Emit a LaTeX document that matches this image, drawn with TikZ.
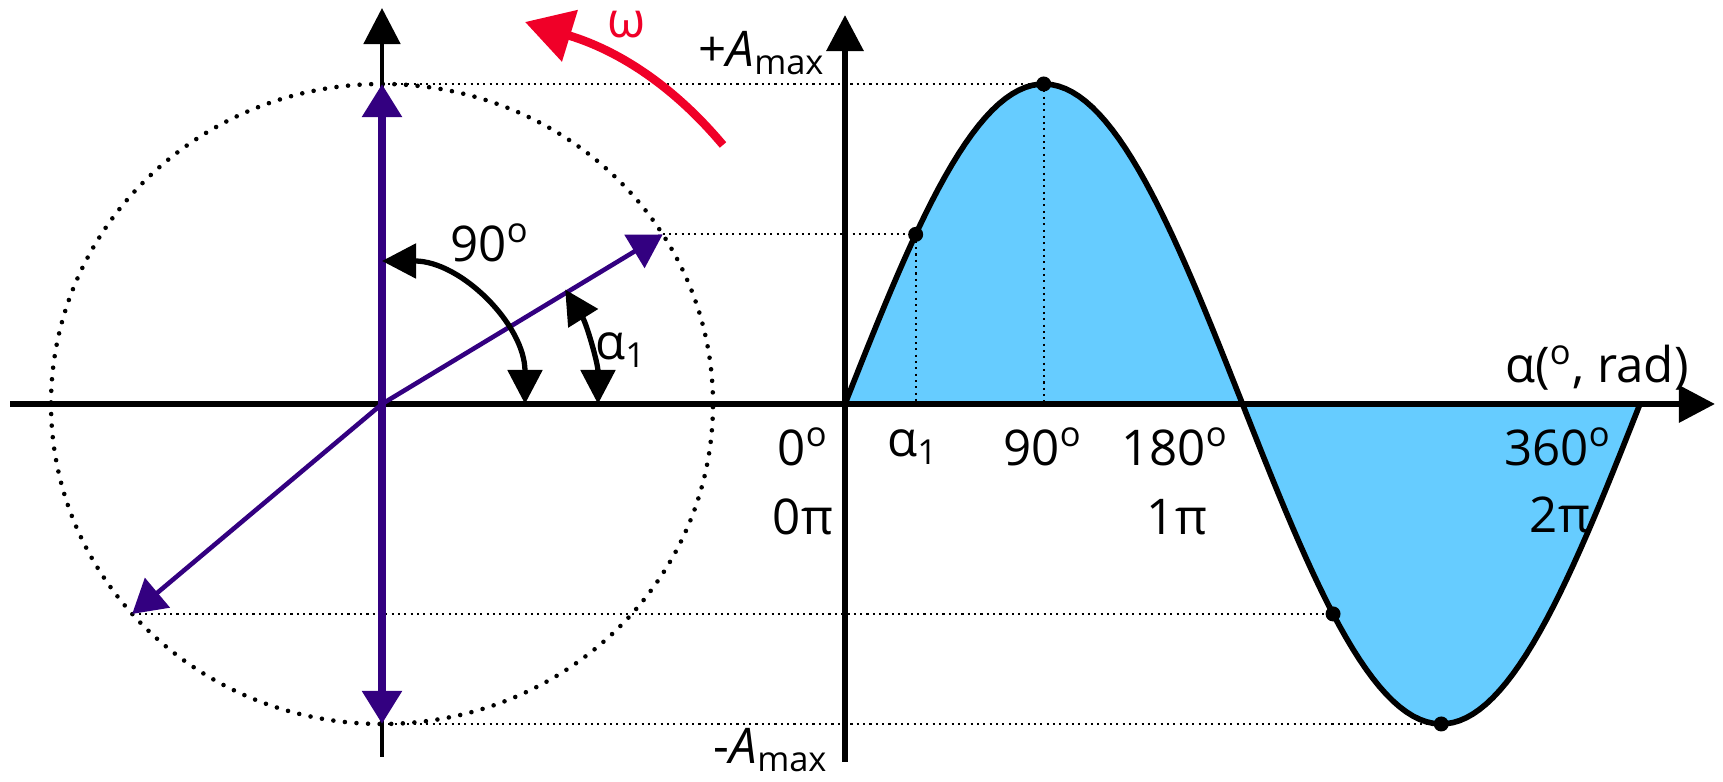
\documentclass[tikz,border=0pt]{standalone}
\usepackage{fontspec}
\setmainfont{Open Sans}
\usetikzlibrary{arrows.meta}

\definecolor{zeiger}{RGB}{51,0,128}
\definecolor{flaeche}{RGB}{102,204,255}
\definecolor{drehung}{RGB}{240,0,40}

\tikzset{
  gross/.tip={Triangle[length=0.36cm,width=0.36cm]},
  zspitze/.tip={Triangle[length=0.33cm,width=0.38cm]},
  wspitze/.tip={Triangle[length=0.34cm,width=0.34cm]},
  achse/.style={line width=1.8pt,-gross},
  kreis/.style={line width=1.3pt,dash pattern=on 0pt off 3.3pt,line cap=round},
  hilfslinie/.style={line width=0.6pt,dash pattern=on 0.6pt off 1.2pt},
  winkel/.style={line width=1.5pt,wspitze-wspitze},
  zeigerpfeil/.style={draw=zeiger,line width=1.3pt,-zspitze},
  punkt/.style={circle,fill=black,inner sep=0pt,minimum size=0.15cm},
  beschriftung/.style={font=\fontsize{14}{16}\selectfont,inner sep=0pt}
}

\begin{document}
\begin{tikzpicture}[x=0.01cm,y=0.01cm]
% Maße (px)
\def\Rx{331}   % Kreis, Radius x
\def\Ry{320}   % Kreis, Radius y = Amplitude
\def\Sx{845}   % Ursprung Sinus
\def\k{2.2083} % px pro Grad (795/360)
\useasboundingbox (0,0) rectangle (1723,782);

\coordinate (O) at (382,378);
\coordinate (S) at (\Sx,378);
\coordinate (zo) at (382,{378+\Ry});
\coordinate (zu) at (382,{378-\Ry});
\coordinate (z1) at ({382+\Rx*cos(32)},{378+\Ry*sin(32)});
\coordinate (z2) at ({382+\Rx*cos(221)},{378+\Ry*sin(221)});

% Fläche unter der Sinuskurve
\fill[flaeche] plot[domain=0:360,samples=120] ({\Sx+\x*\k},{378+\Ry*sin(\x)}) -- cycle;

% Punkte auf der Kurve (Lage)
\coordinate (q1) at ({\Sx+32*\k},{378+\Ry*sin(32)});
\coordinate (q2) at ({\Sx+90*\k},{378+\Ry});
\coordinate (q3) at ({\Sx+221*\k},{378+\Ry*sin(221)});
\coordinate (q4) at ({\Sx+270*\k},{378-\Ry});

% Hilfslinien
\draw[hilfslinie] (zo) -- (q2);
\draw[hilfslinie] (z1) -- (q1);
\draw[hilfslinie] (z2) -- (q3);
\draw[hilfslinie] (zu) -- (q4);
\draw[hilfslinie] (q1) -- (q1 |- S);
\draw[hilfslinie] (q2) -- (q2 |- S);

% Kreis
\draw[kreis] (O) ellipse[x radius=\Rx,y radius=\Ry];

% Sinuskurve
\draw[line width=1.6pt] plot[domain=0:360,samples=120] ({\Sx+\x*\k},{378+\Ry*sin(\x)});

% Achsen
\coordinate (xa) at (10,378);
\coordinate (xe) at (1715,378);
\draw[achse] (xa) -- (xe);
\draw[achse,line width=1.4pt] (382,25) -- (382,774);
\draw[achse] (\Sx,20) -- (\Sx,767);

% Zeiger
\draw[zeigerpfeil,line width=2.4pt,zspitze-zspitze] (zu) -- (zo);
\draw[zeigerpfeil] (O) -- (z1);
\draw[zeigerpfeil] (O) -- (z2);

% Punkte
\node[punkt] (p1) at (q1) {};
\node[punkt] (p2) at (q2) {};
\node[punkt] (p3) at (q3) {};
\node[punkt] (p4) at (q4) {};

% Winkel
\draw[winkel] ([shift={(90:143)}]O) arc[start angle=90,end angle=0,radius=143];
\draw[winkel] ([shift={(0:216)}]O) arc[start angle=0,end angle=32,radius=216];
\node[beschriftung] (w90) at (490,539) {90\textsuperscript{o}};
\node[beschriftung] (wa1) at (621,432) {α\textsubscript{1}};

% Drehsinn
\coordinate (d1) at (723,637);
\coordinate (d2) at (525,760);
\draw[drehung,line width=2.4pt,-{Triangle[length=0.47cm,width=0.52cm]}] (d1) .. controls (655,718) and (590,740) .. (d2);
\node[beschriftung,text=drehung] (omega) at (627,757) {ω};

% Beschriftung Achsen
\node[beschriftung,anchor=east] (amax) at (826,729) {+\textit{A}\textsubscript{max}};
\node[beschriftung,anchor=east] (amin) at (829,32) {-\textit{A}\textsubscript{max}};
\node[beschriftung] (t0) at (803,335) {0\textsuperscript{o}};
\node[beschriftung] (r0) at (803,265) {0π};
\node[beschriftung] (ta) at (913,335) {α\textsubscript{1}};
\node[beschriftung] (t90) at (1043,335) {90\textsuperscript{o}};
\node[beschriftung] (t180) at (1175,335) {180\textsuperscript{o}};
\node[beschriftung] (r1) at (1177,265) {1π};
\node[beschriftung] (t360) at (1558,335) {360\textsuperscript{o}};
\node[beschriftung] (r2) at (1560,267) {2π};
\node[beschriftung] (xl) at (1597,414) {α(\textsuperscript{o}, rad)};

\end{tikzpicture}
\end{document}
